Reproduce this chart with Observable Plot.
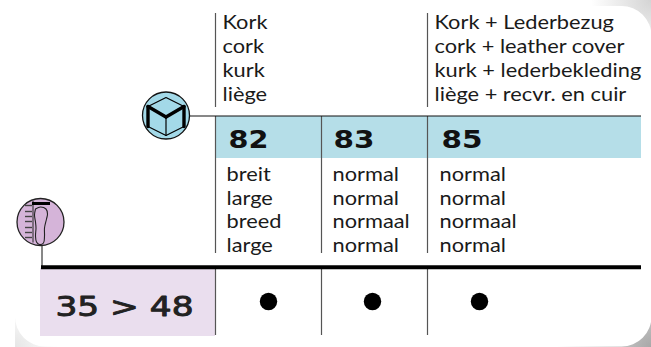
<!DOCTYPE html>
<html><head><meta charset="utf-8">
<script src="https://cdn.jsdelivr.net/npm/d3@7"></script>
<script src="https://cdn.jsdelivr.net/npm/@observablehq/plot@0.6"></script>
<style>
html,body{margin:0;padding:0;background:#fff;overflow:hidden}
#chart{width:651px;height:347px;background:
  radial-gradient(circle at 100% 100%,#a8a8a8 0,#d0d0d0 45px,#fff 95px),
  radial-gradient(circle at 100% 0,#d4d4d4 0,#fff 60px),
  radial-gradient(circle at 15px 100%,#e6e6e6 0,#fff 45px);
  background-blend-mode:multiply}
svg{display:block}
</style></head><body><div id="chart"></div>
<script>
// Table content
const corkLabels = ["Kork", "cork", "kurk", "liège"];
const corkLeatherLabels = ["Kork + Lederbezug", "cork + leather cover", "kurk + lederbekleding", "liège + recvr. en cuir"];
const models = ["82", "83", "85"];
const widthLabels = [
  ["breit", "large", "breed", "large"],
  ["normal", "normal", "normaal", "normal"],
  ["normal", "normal", "normaal", "normal"]
];
const sizeRange = "35 > 48";
const available = ["82", "83", "85"];

// Layout (pixels on the identity scales)
const W = 651, H = 347, F = "Lato, sans-serif", CODE = "'DejaVu Sans', sans-serif";
const colEdges = [215, 321, 427], rightEdge = 641;
const codeX = [228, 333, 441], widthX = [226, 332, 439], dotX = [268, 372, 479];
const headX = [222, 434], headY = [28, 52, 76, 100], widthY = [180, 204, 227, 251];
const cube = {x: 165.5, y: 115}, foot = {x: 40, y: 221.5};

// Pictograms, offsets from each icon centre
const cubeThick = [[[-18,-9],[-18,11]], [[18,-9],[18,11]], [[-18,-9],[0,1.5]], [[18,-9],[0,1.5]]];
const cubeThin = [[[-18,-9],[0,-18],[18,-9]], [[-18,11],[0,20],[18,11]], [[0,1.5],[0,20]]];
const footOutline = [[-5,-13],[-6,-7],[-5,0],[-4.5,6],[-5,14],[-4,20],[-1,22.5],[3,21],[4,14],[4,6],[6,-3],[7,-8],[5.5,-13],[0,-15],[-5,-13]];
const rulerTicks = [-16.5,-10.5,-5.5,-0.5,5.5,10.5,15.5];

const segs = (shape, c) => shape.flatMap((s, i) => s.map(([dx, dy]) => ({x: c.x + dx, y: c.y + dy, i})));
const textMark = (rows, size, extra = {}) => Plot.text(rows, {x: "x", y: "y", text: "t", textAnchor: "start", lineAnchor: "bottom", fontFamily: F, fontSize: size, fill: "#1a1a1a", ...extra});

const heads = [corkLabels, corkLeatherLabels].flatMap((c, i) => c.map((t, j) => ({x: headX[i], y: headY[j], t})));
const widths = widthLabels.flatMap((c, i) => c.map((t, j) => ({x: widthX[i], y: widthY[j], t})));
const codes = models.map((t, i) => ({x: codeX[i], y: 147, t}));

const plot = Plot.plot({
  width: W, height: H, margin: 0,
  x: {type: "linear", domain: [0, W], range: [0, W], axis: null},
  y: {type: "linear", domain: [0, H], range: [0, H], axis: null},
  style: {background: "transparent"},
  marks: [
    Plot.rect([0], {x1: 0, x2: 15, y1: 0, y2: H, fill: "#fff"}),
    Plot.rect([0], {x1: 15, x2: 651.5, y1: 6, y2: 346.5, fill: "#fff", rx: 30}),
    Plot.rect([0], {x1: colEdges[0], x2: rightEdge, y1: 116, y2: 158, fill: "#b5dee8"}),
    Plot.rect([0], {x1: 40, x2: colEdges[0], y1: 268, y2: 336, fill: "#eadeee"}),
    // column rules
    Plot.ruleX([colEdges[0], colEdges[2]], {y1: 13, y2: 107, stroke: "#555", strokeWidth: 1.2}),
    Plot.ruleX(colEdges, {y1: 116, y2: 253, stroke: "#555", strokeWidth: 1.2}),
    Plot.ruleX(colEdges, {y1: 268, y2: 335, stroke: "#555", strokeWidth: 1.2}),
    Plot.ruleY([115.5], {x1: cube.x, x2: rightEdge, stroke: "#111", strokeWidth: 1}),
    Plot.ruleX([foot.x + 1.5], {y1: foot.y, y2: 266, stroke: "#111", strokeWidth: 1}),
    Plot.ruleY([266.8], {x1: foot.x + 1, x2: rightEdge, stroke: "#000", strokeWidth: 4}),
    textMark(heads, 20),
    textMark(widths, 20),
    textMark(codes, 25, {fontFamily: CODE, fontWeight: 700, fill: "#111"}),
    textMark([{x: 55, y: 315, t: sizeRange}], 26, {fontFamily: CODE, fontWeight: 400, fill: "#222", stroke: "#222", strokeWidth: 0.9}),
    Plot.dot(available, {x: m => dotX[models.indexOf(m)], y: () => 301, r: 8.7, fill: "#000"}),
    // cube icon
    Plot.dot([cube], {x: "x", y: "y", r: 23.5, fill: "#a3d9e8", stroke: "#111", strokeWidth: 1.3}),
    Plot.line(segs(cubeThin, cube), {x: "x", y: "y", z: "i", stroke: "#000", strokeWidth: 1.2}),
    Plot.line(segs(cubeThick, cube), {x: "x", y: "y", z: "i", stroke: "#000", strokeWidth: 3.4}),
    // foot icon
    Plot.dot([foot], {x: "x", y: "y", r: 23.5, fill: "#d5b4d9", stroke: "#222", strokeWidth: 1.3}),
    Plot.ruleX([foot.x - 7.5], {y1: foot.y - 20.5, y2: foot.y + 21, stroke: "#222", strokeWidth: 1}),
    Plot.ruleY(rulerTicks, {y: d => foot.y + d, x1: foot.x - 15, x2: foot.x - 8, stroke: "#444", strokeWidth: 1.4}),
    Plot.ruleY([foot.y - 18.5], {x1: foot.x - 8, x2: foot.x + 10, stroke: "#000", strokeWidth: 3}),
    Plot.line(footOutline.map(([dx, dy]) => ({x: foot.x + dx, y: foot.y + dy})), {x: "x", y: "y", stroke: "#222", strokeWidth: 1.1, curve: "catmull-rom"})
  ]
});
document.getElementById("chart").append(plot);
// widen the lettering to the reference's proportions
const stretch = new Map([["82", 40], ["83", 41], ["85", 41], [sizeRange, 138]]);
const bodyText = new Set([...corkLabels, ...corkLeatherLabels, ...widthLabels.flat()]);
plot.querySelectorAll("text").forEach(t => {
  const s = t.textContent;
  const w = stretch.get(s) || (bodyText.has(s) ? t.getComputedTextLength() * 1.09 : 0);
  if (w) { t.setAttribute("textLength", w); t.setAttribute("lengthAdjust", "spacingAndGlyphs"); }
});
</script></body></html>
